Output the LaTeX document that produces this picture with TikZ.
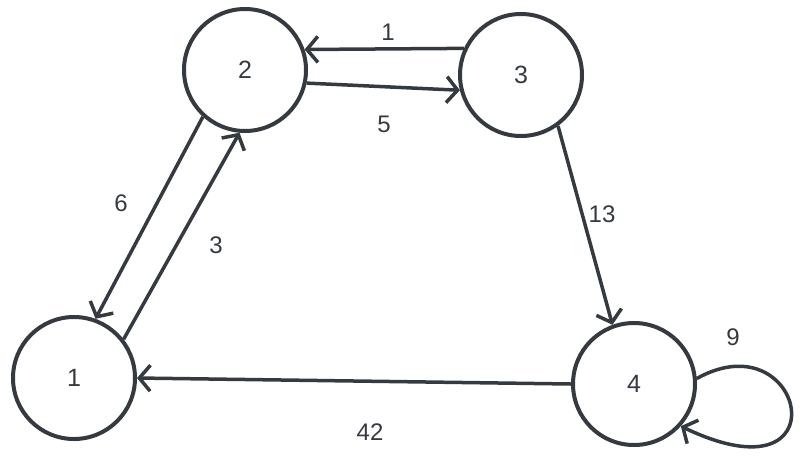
\documentclass[tikz,border=0pt]{standalone}
\usepackage{fontspec}
\setmainfont{Liberation Sans}
\usetikzlibrary{arrows.meta}
\definecolor{ink}{HTML}{343A40}
\tikzset{
  state/.style={circle,draw=ink,line width=4pt,minimum size=122pt,inner sep=0pt,text=ink,font=\fontsize{25}{30}\selectfont},
  edge/.style={draw=ink,line width=3.5pt,-{Straight Barb[length=11pt,width=26pt,line width=3.5pt]}},
  weight/.style={text=ink,font=\fontsize{24}{28}\selectfont}
}
\begin{document}
\begin{tikzpicture}[x=1pt,y=-1pt]
\useasboundingbox (0,0) rectangle (802,464);
\node[state] (n1) at (74,378) {1};
\node[state] (n2) at (245,70) {2};
\node[state] (n3) at (521,75) {3};
\node[state] (n4) at (634,384) {4};
% edges between the states
\draw[edge] (n3.155) -- (n2.19);
\draw[edge] (n2.-12) -- (n3.-166);
\draw[edge] (n2.-132) -- (n1.70);
\draw[edge] (n1.38) -- (n2.-95);
\draw[edge] (n3.-54) -- (n4.110);
\draw[edge] (n4.180) -- (n1.0);
\draw[edge] (n4.5) .. controls (805,318) and (845,505) .. (n4.-42);
% weights
\node[weight] (w1) at (388,32) {1};
\node[weight] (w5) at (384,124) {5};
\node[weight] (w6) at (121,203) {6};
\node[weight] (w3) at (216,245) {3};
\node[weight] (w13) at (602,214) {13};
\node[weight] (w42) at (370,432) {42};
\node[weight] (w9) at (733,337) {9};
\end{tikzpicture}
\end{document}
